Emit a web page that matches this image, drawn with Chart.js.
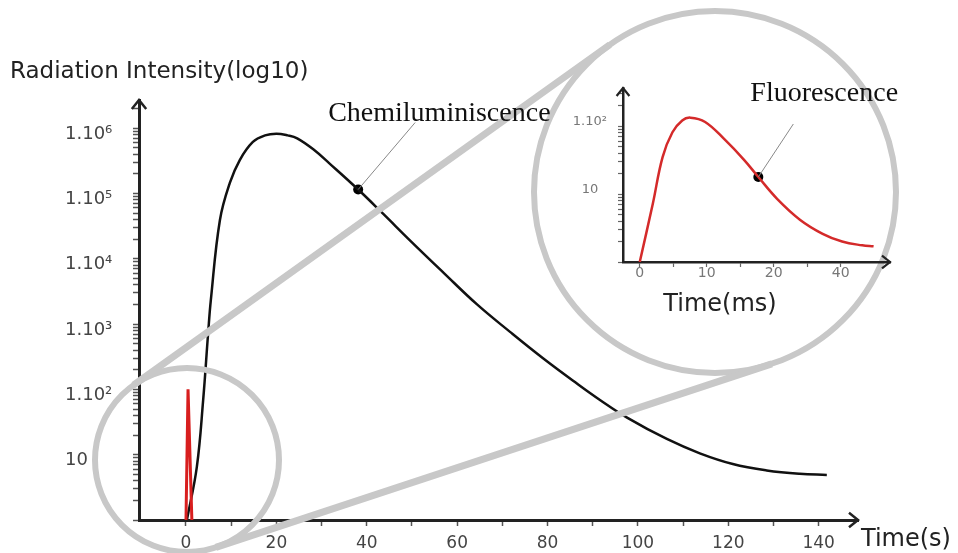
<!DOCTYPE html>
<html>
<head>
<meta charset="utf-8">
<script src="https://cdn.jsdelivr.net/npm/chart.js@4"></script>
<style>
  body { margin: 0; background: #fff; }
  #wrap { position: relative; width: 958px; height: 553px; overflow: hidden; }
  #mainChart { position: absolute; left: 0; top: 0; }
  #insetChart { position: absolute; left: 560px; top: 60px; }
</style>
</head>
<body>
<div id="wrap">
  <canvas id="mainChart" width="958" height="553"></canvas>
  <canvas id="insetChart" width="380" height="260"></canvas>
</div>
<script>
// main plot: chemiluminescence, time in s
const chemiTime = [0.2, 2.4, 3.8, 4.9, 5.5, 7.5, 9.7, 11.9, 14.8, 17.5, 20.0, 22.5, 24.6, 28.1, 31.9, 38.1, 43.6, 49.6, 56.9, 64.4, 71.7, 79.0, 86.5, 91.6, 97.6, 106.4, 113.7, 121.0, 128.5, 135.8, 141.8];
const chemiIntensity = [1, 6.5, 69, 730, 2340, 39000, 145000, 325000, 615000, 776000, 822000, 776000, 700000, 479000, 282000, 115000, 49000, 19000, 6200, 2000, 760, 300, 123, 69, 37, 17.4, 10.5, 7.2, 5.75, 5.1, 4.9];
const chemiMarker = { time: 38.1, intensity: 115000 };

// the fluorescence spike as it looks on the seconds scale
const spikeTime = [0, 0.45, 1.3];
const spikeIntensity = [1, 100, 1];

// inset: fluorescence, time in ms
const fluoTime = [0, 1.95, 3.41, 4.88, 6.34, 7.56, 9.76, 12.7, 15.6, 17.7, 20.5, 23.9, 27.3, 30.2, 33.2, 34.9];
const fluoIntensity = [1, 7.2, 35, 81, 121, 133, 115, 63, 31.6, 17.8, 8.5, 4.2, 2.6, 2.0, 1.76, 1.7];
const fluoMarker = { time: 17.7, intensity: 17.8 };

// tick labels
const xTickValues = [0, 10, 20, 30, 40, 50, 60, 70, 80, 90, 100, 110, 120, 130, 140];
const xTickLabels = ['0', '', '20', '', '40', '', '60', '', '80', '', '100', '', '120', '', '140'];
const yDecadeLabels = ['', '10', '1.10²', '1.10³', '1.10⁴', '1.10⁵', '1.10⁶'];
const insetXTickValues = [0, 5, 10, 15, 20, 25, 30];
const insetXTickLabels = ['0', '', '10', '', '20', '', '40'];
const insetYDecadeLabels = ['', '10', '1.10²'];

const sansFont = '"DejaVu Sans", sans-serif';
const serifFont = '"Liberation Serif", "Times New Roman", serif';
const circleGray = '#c8c8c8';

// zoom circles (decoration)
const smallCircle = { x: 187, y: 460, r: 92 };
const bigCircle = { x: 715, y: 192, r: 181 };

function points(xs, ys) {
    return xs.map((x, i) => ({ x: x, y: ys[i] }));
}

// 1..9 x 10^k tick marks for the log axes
function logTicks(max) {
    const ticks = [];
    for (let e = 0; Math.pow(10, e) <= max; e++) {
        for (let m = 1; m <= 9; m++) {
            const v = m * Math.pow(10, e);
            if (v <= max) ticks.push({ value: v });
        }
    }
    return ticks;
}

function decadeLabel(v, labels) {
    const l = Math.log10(v);
    const k = Math.round(l);
    if (Math.abs(l - k) > 1e-9) return '';
    return labels[k] ?? '';
}

function arrowHead(ctx, x, y, dir, size) {
    ctx.beginPath();
    if (dir === 'up') {
        ctx.moveTo(x - size * 0.8, y + size);
        ctx.lineTo(x, y);
        ctx.lineTo(x + size * 0.8, y + size);
    } else {
        ctx.moveTo(x - size, y - size * 0.8);
        ctx.lineTo(x, y);
        ctx.lineTo(x - size, y + size * 0.8);
    }
    ctx.stroke();
}

// outer tangent lines of two circles
function outerTangents(c1, c2) {
    const dx = c2.x - c1.x, dy = c2.y - c1.y;
    const d = Math.hypot(dx, dy);
    const ux = dx / d, uy = dy / d;
    const cos = (c1.r - c2.r) / d;
    const sin = Math.sqrt(1 - cos * cos);
    return [1, -1].map(s => {
        const nx = ux * cos - s * uy * sin;
        const ny = uy * cos + s * ux * sin;
        return [c1.x + c1.r * nx, c1.y + c1.r * ny, c2.x + c2.r * nx, c2.y + c2.r * ny];
    });
}

const mainDecor = {
    id: 'mainDecor',
    afterDatasetsDraw(chart) {
        const ctx = chart.ctx;
        ctx.save();
        ctx.strokeStyle = circleGray;
        ctx.lineWidth = 6;
        ctx.beginPath();
        ctx.arc(smallCircle.x, smallCircle.y, smallCircle.r, 0, Math.PI * 2);
        ctx.stroke();
        ctx.beginPath();
        ctx.arc(bigCircle.x, bigCircle.y, bigCircle.r, 0, Math.PI * 2);
        ctx.stroke();
        ctx.lineWidth = 7;
        outerTangents(smallCircle, bigCircle).forEach(t => {
            ctx.beginPath();
            ctx.moveTo(t[0], t[1]);
            ctx.lineTo(t[2], t[3]);
            ctx.stroke();
        });
        ctx.restore();
    },
    afterDraw(chart) {
        const { ctx, chartArea: a, scales: { x, y } } = chart;
        ctx.save();
        ctx.strokeStyle = '#222';
        ctx.lineWidth = 2.5;
        arrowHead(ctx, a.left, a.top, 'up', 9);
        arrowHead(ctx, a.right, a.bottom, 'right', 9);

        // callout
        const px = x.getPixelForValue(chemiMarker.time);
        const py = y.getPixelForValue(chemiMarker.intensity);
        ctx.strokeStyle = '#888';
        ctx.lineWidth = 1;
        ctx.beginPath();
        ctx.moveTo(px, py);
        ctx.lineTo(px + 57, py - 67);
        ctx.stroke();

        ctx.fillStyle = '#111';
        ctx.textBaseline = 'middle';
        ctx.textAlign = 'left';
        ctx.font = '28px ' + serifFont;
        ctx.fillText('Chemiluminiscence', px - 30, py - 76);

        ctx.fillStyle = '#222';
        ctx.font = '23px ' + sansFont;
        ctx.fillText('Radiation Intensity(log10)', 10, 72);
        ctx.font = '24px ' + sansFont;
        ctx.fillText('Time(s)', a.right + 3, 540);
        ctx.restore();
    }
};

const insetDecor = {
    id: 'insetDecor',
    afterDraw(chart) {
        const { ctx, chartArea: a, scales: { x, y } } = chart;
        ctx.save();
        ctx.strokeStyle = '#222';
        ctx.lineWidth = 2.2;
        arrowHead(ctx, a.left, a.top, 'up', 8);
        arrowHead(ctx, a.right, a.bottom, 'right', 8);

        const px = x.getPixelForValue(fluoMarker.time);
        const py = y.getPixelForValue(fluoMarker.intensity);
        ctx.strokeStyle = '#888';
        ctx.lineWidth = 1;
        ctx.beginPath();
        ctx.moveTo(px, py);
        ctx.lineTo(px + 35, py - 53);
        ctx.stroke();

        ctx.fillStyle = '#111';
        ctx.textBaseline = 'middle';
        ctx.textAlign = 'left';
        ctx.font = '28px ' + serifFont;
        ctx.fillText('Fluorescence', px - 8, py - 83);

        ctx.fillStyle = '#222';
        ctx.textAlign = 'center';
        ctx.font = '24px ' + sansFont;
        ctx.fillText('Time(ms)', 160, 245);
        ctx.restore();
    }
};

const mainChart = new Chart(document.getElementById('mainChart').getContext('2d'), {
    type: 'line',
    data: {
        datasets: [
            {
                label: 'Fluorescence',
                data: points(spikeTime, spikeIntensity),
                borderColor: '#d81e1e',
                borderWidth: 3,
                pointRadius: 0,
                tension: 0,
            },
            {
                label: 'Chemiluminiscence',
                data: points(chemiTime, chemiIntensity),
                borderColor: '#111',
                borderWidth: 2.5,
                pointRadius: 0,
                tension: 0.4,
            },
            {
                label: 'marker',
                data: [{ x: chemiMarker.time, y: chemiMarker.intensity }],
                showLine: false,
                pointRadius: 5,
                pointBackgroundColor: '#000',
                pointBorderWidth: 0,
            },
        ],
    },
    options: {
        responsive: false,
        animation: false,
        layout: { padding: { left: 65, right: 100, top: 100, bottom: 0 } },
        plugins: { legend: { display: false }, tooltip: { enabled: false } },
        scales: {
            x: {
                type: 'linear',
                min: -10.4,
                max: 148.7,
                afterBuildTicks: s => { s.ticks = xTickValues.map(v => ({ value: v })); },
                afterFit: s => { s.height = 33; },
                border: { color: '#222', width: 3 },
                grid: { drawOnChartArea: false, tickLength: 6, tickColor: '#555', tickWidth: 1.5 },
                ticks: {
                    autoSkip: false,
                    maxRotation: 0,
                    padding: 7,
                    color: '#444',
                    font: { family: sansFont, size: 17 },
                    callback: v => xTickLabels[xTickValues.indexOf(v)] ?? '',
                },
            },
            y: {
                type: 'logarithmic',
                min: 1,
                max: 2.7e6,
                afterBuildTicks: s => { s.ticks = logTicks(s.max); },
                afterFit: s => { s.width = 74; },
                border: { color: '#222', width: 3 },
                grid: { drawOnChartArea: false, tickLength: 6, tickColor: '#555', tickWidth: 1.5 },
                ticks: {
                    autoSkip: false,
                    crossAlign: 'far',
                    labelOffset: 6,
                    color: '#444',
                    font: { family: sansFont, size: 18 },
                    callback: v => decadeLabel(v, yDecadeLabels),
                },
            },
        },
    },
    plugins: [mainDecor],
});

const insetChart = new Chart(document.getElementById('insetChart').getContext('2d'), {
    type: 'line',
    data: {
        datasets: [
            {
                label: 'Fluorescence',
                data: points(fluoTime, fluoIntensity),
                borderColor: '#d42a2a',
                borderWidth: 2.5,
                pointRadius: 0,
                tension: 0.4,
            },
            {
                label: 'marker',
                data: [{ x: fluoMarker.time, y: fluoMarker.intensity }],
                showLine: false,
                pointRadius: 5,
                pointBackgroundColor: '#000',
                pointBorderWidth: 0,
            },
        ],
    },
    options: {
        responsive: false,
        animation: false,
        layout: { padding: { left: 0, right: 50, top: 28, bottom: 0 } },
        plugins: { legend: { display: false }, tooltip: { enabled: false } },
        scales: {
            x: {
                type: 'linear',
                min: -2.5,
                max: 37.35,
                afterBuildTicks: s => { s.ticks = insetXTickValues.map(v => ({ value: v })); },
                afterFit: s => { s.height = 58; },
                border: { color: '#222', width: 2.5 },
                grid: { drawOnChartArea: false, tickLength: 5, tickColor: '#666', tickWidth: 1.2 },
                ticks: {
                    autoSkip: false,
                    maxRotation: 0,
                    padding: -2,
                    color: '#777',
                    font: { family: sansFont, size: 14 },
                    callback: v => insetXTickLabels[insetXTickValues.indexOf(v)] ?? '',
                },
            },
            y: {
                type: 'logarithmic',
                min: 1,
                max: 363,
                afterBuildTicks: s => { s.ticks = logTicks(s.max); },
                afterFit: s => { s.width = 63; },
                border: { color: '#222', width: 2.5 },
                grid: { drawOnChartArea: false, tickLength: 5, tickColor: '#666', tickWidth: 1.2 },
                ticks: {
                    autoSkip: false,
                    crossAlign: 'center',
                    padding: 11,
                    labelOffset: -4,
                    color: '#777',
                    font: { family: sansFont, size: 13 },
                    callback: v => decadeLabel(v, insetYDecadeLabels),
                },
            },
        },
    },
    plugins: [insetDecor],
});
</script>
</body>
</html>
